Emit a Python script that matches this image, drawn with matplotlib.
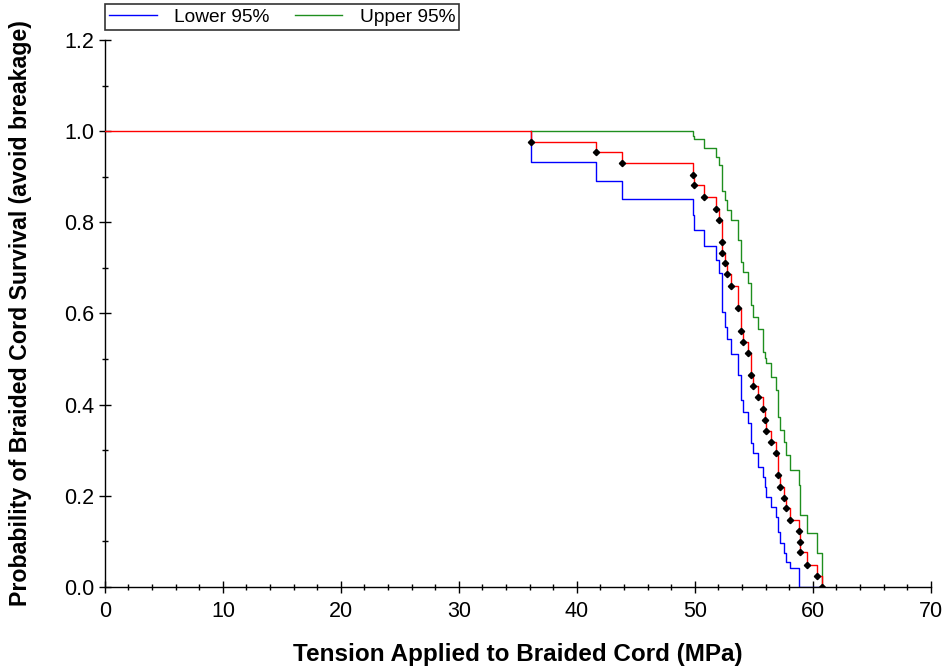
import numpy as np
import matplotlib
matplotlib.use("Agg")
import matplotlib.pyplot as plt
from matplotlib.ticker import MultipleLocator, FormatStrFormatter

# Kaplan-Meier event times (MPa) and estimates
times = [36.10, 41.61, 43.81, 49.86, 49.94, 50.76, 51.82, 52.06, 52.31, 52.32,
         52.56, 52.69, 53.10, 53.62, 53.87, 54.09, 54.53, 54.77, 54.97, 55.39,
         55.78, 55.92, 56.05, 56.42, 56.84, 57.08, 57.22, 57.56, 57.72, 58.10,
         58.86, 58.92, 58.95, 59.53, 60.34, 60.74]
survival = [0.976, 0.954, 0.930, 0.904, 0.882, 0.856, 0.830, 0.804, 0.757, 0.733,
            0.710, 0.686, 0.660, 0.612, 0.562, 0.537, 0.514, 0.464, 0.441, 0.417,
            0.391, 0.366, 0.343, 0.319, 0.295, 0.246, 0.220, 0.196, 0.173, 0.148,
            0.122, 0.098, 0.076, 0.048, 0.024, 0.0]
lower95 = [0.932, 0.891, 0.852, 0.816, 0.784, 0.749, 0.717, 0.688, 0.630, 0.604,
           0.571, 0.545, 0.512, 0.465, 0.410, 0.384, 0.360, 0.315, 0.293, 0.264,
           0.242, 0.220, 0.198, 0.176, 0.154, 0.121, 0.096, 0.074, 0.055, 0.041,
           0.0, 0.0, 0.0, 0.0, 0.0, 0.0]
upper95 = [1.0, 1.0, 1.0, 0.990, 0.982, 0.963, 0.944, 0.925, 0.895, 0.868,
           0.849, 0.827, 0.805, 0.761, 0.713, 0.691, 0.666, 0.618, 0.593, 0.567,
           0.516, 0.503, 0.491, 0.461, 0.432, 0.373, 0.344, 0.319, 0.289, 0.257,
           0.224, 0.191, 0.158, 0.118, 0.074, 0.0]

plt.rcParams['font.family'] = ['Liberation Sans', 'DejaVu Sans']

fig = plt.figure(figsize=(9.45, 6.66), dpi=100)
ax = fig.add_axes([0.111, 0.1186, 0.874, 0.8214])

t = np.array(times)
ax.step(np.r_[t[0], t], np.r_[1.0, lower95], where='post', color='#0000ff', lw=1.0,
        label='Lower 95%', zorder=2)
ax.step(np.r_[t[0], t], np.r_[1.0, upper95], where='post', color='#1f8f1f', lw=1.0,
        label='Upper 95%', zorder=2)
ax.step(np.r_[0.0, t], np.r_[1.0, survival], where='post', color='#ff0000', lw=1.0,
        zorder=3)
ax.plot(t, survival, linestyle='none', marker='D', ms=3.2, color='black', zorder=4)

ax.set_xlim(0, 70)
ax.set_ylim(0, 1.2)
ax.xaxis.set_major_locator(MultipleLocator(10))
ax.xaxis.set_minor_locator(MultipleLocator(2))
ax.yaxis.set_major_locator(MultipleLocator(0.2))
ax.yaxis.set_minor_locator(MultipleLocator(0.1))
ax.yaxis.set_major_formatter(FormatStrFormatter('%.1f'))
for s in ('top', 'right'):
    ax.spines[s].set_visible(False)
for s in ('left', 'bottom'):
    ax.spines[s].set_linewidth(1.0)
ax.tick_params(which='major', direction='inout', length=8, width=1, labelsize=15.5)
ax.tick_params(which='minor', direction='inout', length=5, width=1)
ax.tick_params(axis='x', which='major', pad=6)

ax.set_xlabel('Tension Applied to Braided Cord (MPa)', fontsize=17.5, fontweight='bold',
              labelpad=15)
ax.set_ylabel('Probability of Braided Cord Survival (avoid breakage)', fontsize=16.7,
              fontweight='bold', labelpad=23)

leg = ax.legend(loc='lower left', bbox_to_anchor=(0.0, 1.018),
                ncol=2, fontsize=13.8, frameon=True, fancybox=False, borderaxespad=0,
                handlelength=2.5, handletextpad=0.9, borderpad=0.22,
                columnspacing=1.3)
leg.get_frame().set_edgecolor('black')
leg.get_frame().set_linewidth(1.2)

fig.savefig('out.png', dpi=100)
